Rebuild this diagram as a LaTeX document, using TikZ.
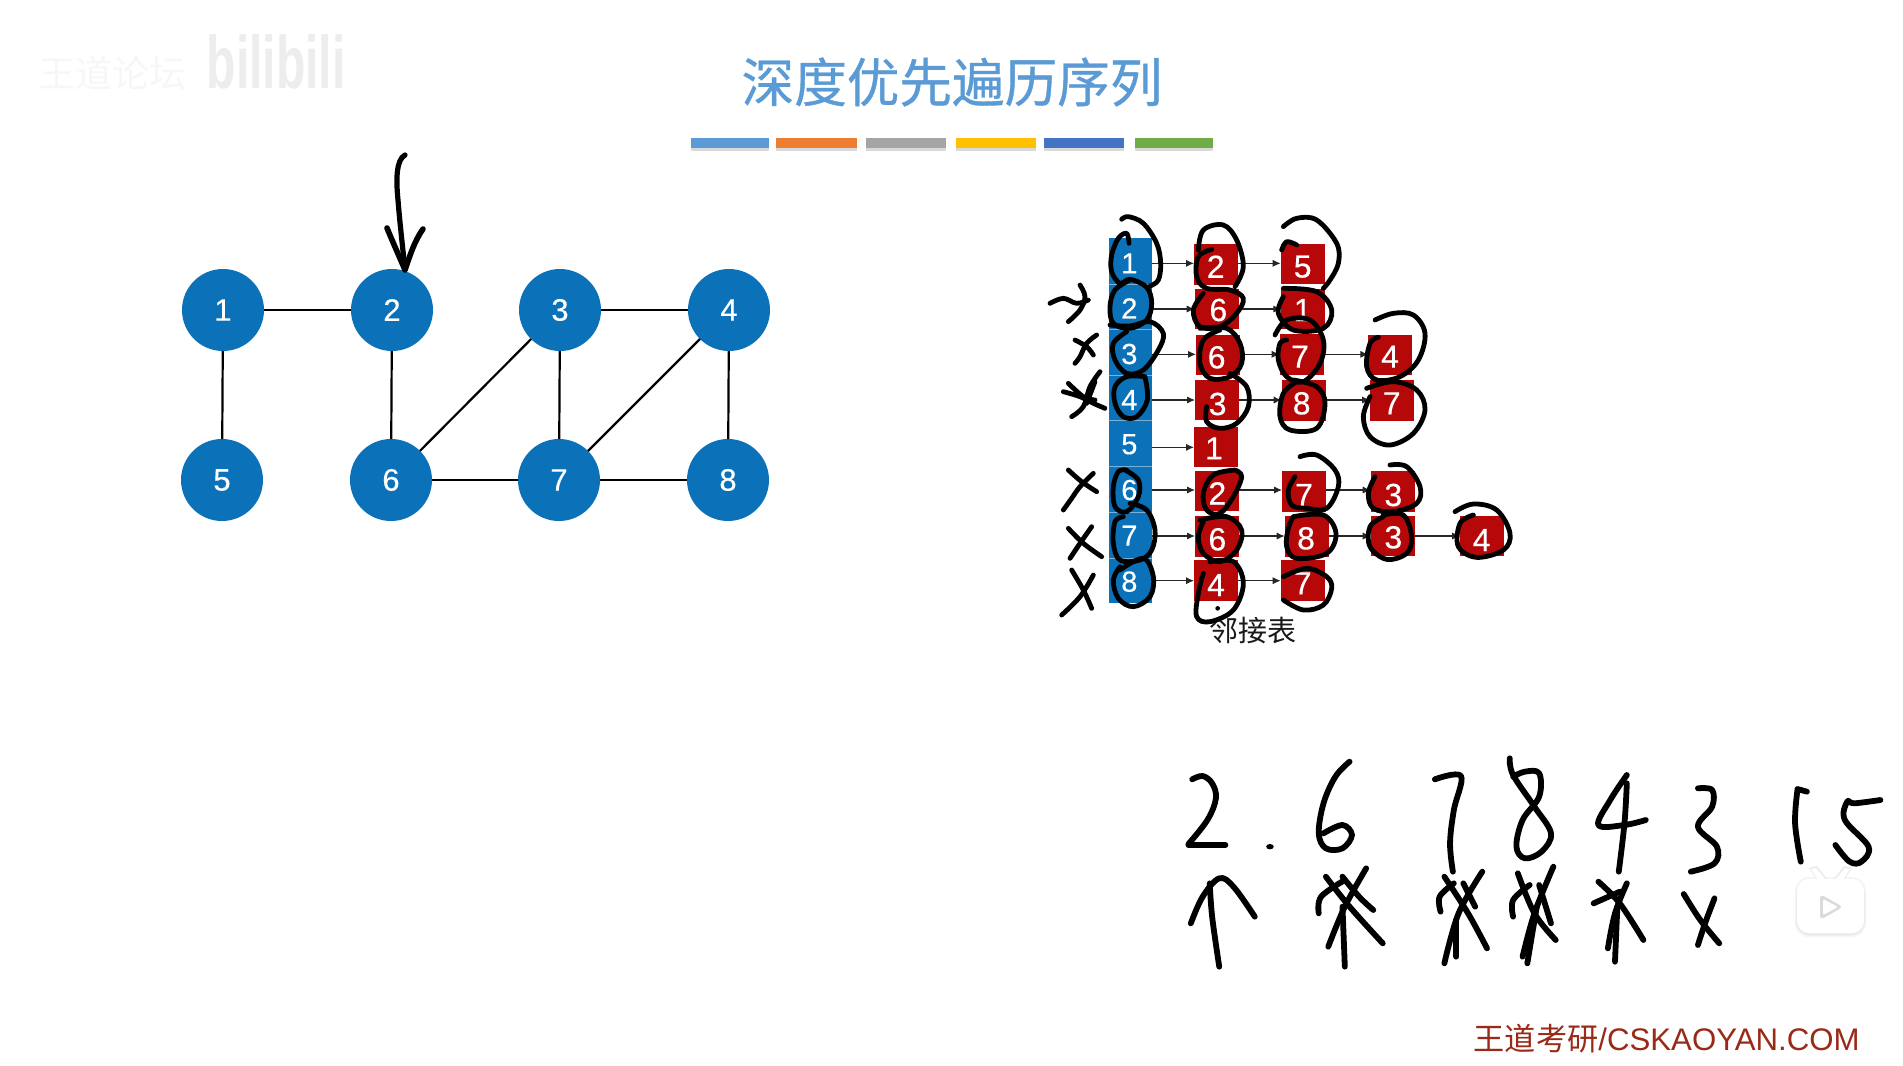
\documentclass[tikz,border=0pt]{standalone}
\usepackage{fontspec}
\setmainfont{Liberation Sans}
\newfontfamily\cjk{Noto Sans CJK SC}
\newfontfamily\cjkb[FakeBold=0.7]{Noto Sans CJK SC}
\newfontfamily\numf[FakeBold=0.35]{Liberation Sans}
\usetikzlibrary{arrows.meta}
\definecolor{nodeblue}{HTML}{0B72B9}
\definecolor{boxred}{HTML}{B60808}
\definecolor{titleblue}{HTML}{5B9BD5}
\definecolor{wmred}{HTML}{9A2A18}
\tikzset{
  gnode/.style={circle,fill=nodeblue,text=white,minimum size=41pt,inner sep=0pt,outer sep=0pt,font=\numf\fontsize{15.5}{16}\selectfont},
  gedge/.style={line width=1.1pt,black},
  cell/.style={rectangle,fill=nodeblue,text=white,minimum width=21.5pt,minimum height=22.8pt,inner sep=0pt,outer sep=0pt},
  redbox/.style={rectangle,fill=boxred,minimum width=22pt,minimum height=20.2pt,inner sep=0pt,outer sep=0pt},
  rednum/.style={text=white,inner sep=0pt,font=\numf\fontsize{16}{17}\selectfont},
  larr/.style={line width=0.55pt,black!85,-{Latex[length=4pt,width=3.6pt]}},
  inkst/.style={line width=2.4pt,black,line cap=round,line join=round},
  inkb/.style={line width=2.9pt,black,line cap=round,line join=round},
}
\newcommand{\ink}[1]{\draw[inkst] plot[smooth,tension=0.6] coordinates {#1};}
\newcommand{\inkB}[1]{\draw[inkb] plot[smooth,tension=0.6] coordinates {#1};}
% name, box centre x,y, label x,y, text
\newcommand{\rbox}[6]{\node[redbox] (#1) at (#2,#3) {}; \node[rednum] (#1t) at (#5,#6) {#4};}
\begin{document}
\begin{tikzpicture}[x=0.5pt,y=-0.5pt]
\useasboundingbox (0,0) rectangle (1903,1066);
\fill[white] (0,0) rectangle (1903,1066);
% faint watermarks
\node[text=black!3,font=\cjk\fontsize{18.5}{19}\selectfont,inner sep=0pt] (wa) at (113,73) {王道论坛};
\node[text=black!7,font=\bfseries\fontsize{24}{25}\selectfont,inner sep=0pt,yscale=1.55] (wb) at (276,62) {bilibili};
% title
\node[text=titleblue,font=\cjkb\fontsize{26.3}{27}\selectfont,inner sep=0pt] (title) at (952,82) {深度优先遍历序列};
\foreach \nm/\xa/\xb/\cc in {ba/691/769/5B9BD5,bb/776/857/ED7D31,bc/866/946/A5A5A5,bd/956/1036/FFC000,be/1044/1124/4472C4,bf/1135/1213/70AD47}{
  \definecolor{tmpc}{HTML}{\cc}
  \fill[black!15] (\xa,140) rectangle (\xb,150.5);
  \fill[tmpc] (\xa,138) rectangle (\xb,148);
}
% graph
\node[gnode] (n1) at (223,310) {1};
\node[gnode] (n2) at (392,310) {2};
\node[gnode] (n3) at (560,310) {3};
\node[gnode] (n4) at (729,310) {4};
\node[gnode] (n5) at (222,480) {5};
\node[gnode] (n6) at (391,480) {6};
\node[gnode] (n7) at (559,480) {7};
\node[gnode] (n8) at (728,480) {8};
\draw[gedge] (n1) -- (n2);
\draw[gedge] (n3) -- (n4);
\draw[gedge] (n6) -- (n7);
\draw[gedge] (n7) -- (n8);
\draw[gedge] (n1) -- (n5);
\draw[gedge] (n2) -- (n6);
\draw[gedge] (n3) -- (n7);
\draw[gedge] (n4) -- (n8);
\draw[gedge] (n3) -- (n6);
\draw[gedge] (n4) -- (n7);
% pen arrow on graph
\coordinate (pa) at (405,155);
\coordinate (pb) at (405,270);
\draw[line width=2.6pt,line cap=round,line join=round] (pa) .. controls (396,160) and (396,180) .. (398,200) .. controls (400,225) and (403,250) .. (pb);
\draw[line width=2.8pt,line cap=round,line join=round] (387,228) .. controls (394,245) and (400,258) .. (pb) .. controls (410,255) and (415,240) .. (423,229);
% adjacency list, coordinates from a 3x crop
\begin{scope}[shift={(1030,200)},x=0.16667pt,y=-0.16667pt]
\foreach \i/\yy in {1/183,2/320,3/456,4/593,5/731,6/868,7/1006,8/1141}{
  \node[cell] (c\i) at (300,\yy) {};
}
\foreach \yy in {253,388,525,662,800,937,1075}{
  \draw[white!45!nodeblue,line width=0.5pt] (237,\yy) -- (365,\yy);
}
\foreach \i/\yy in {1/190,2/325,3/462,4/600,5/733,6/870,7/1007,8/1145}{
  \node[text=white,inner sep=0pt,font=\numf\fontsize{14.5}{15}\selectfont] (ct\i) at (298,\yy) {\i};
}
\rbox{r1a}{558}{193}{2}{557}{200}
\rbox{r1b}{818}{192}{5}{818}{200}
\rbox{r2a}{560}{327}{6}{565}{330}
\rbox{r2b}{820}{327}{1}{818}{330}
\rbox{r3a}{564}{465}{6}{560}{472}
\rbox{r3b}{815}{463}{7}{810}{470}
\rbox{r3c}{1081}{465}{4}{1080}{470}
\rbox{r4a}{561}{600}{3}{563}{612}
\rbox{r4b}{821}{601}{8}{815}{610}
\rbox{r4c}{1086}{601}{7}{1085}{610}
\rbox{r5a}{558}{741}{1}{552}{745}
\rbox{r6a}{561}{873}{2}{562}{880}
\rbox{r6b}{822}{875}{7}{822}{885}
\rbox{r6c}{1088}{875}{3}{1090}{885}
\rbox{r7a}{561}{1010}{6}{562}{1018}
\rbox{r7b}{830}{1009}{8}{828}{1015}
\rbox{r7c}{1088}{1008}{3}{1090}{1012}
\rbox{r7d}{1356}{1008}{4}{1355}{1020}
\rbox{r8a}{558}{1142}{4}{558}{1155}
\rbox{r8b}{818}{1142}{7}{818}{1150}
\coordinate (l1) at (365,190);\coordinate (l2) at (365,327);\coordinate (l3) at (365,463);\coordinate (l4) at (365,600);
\coordinate (l5) at (365,742);\coordinate (l6) at (365,870);\coordinate (l7) at (365,1008);\coordinate (l8) at (365,1142);
\draw[larr] (l1) -- (l1 -| r1a.west);
\draw[larr] (r1a.east |- l1) -- (r1b.west |- l1);
\draw[larr] (l2) -- (l2 -| r2a.west);
\draw[larr] (r2a.east |- l2) -- (r2b.west |- l2);
\draw[larr] (l3) -- (l3 -| r3a.west);
\draw[larr] (r3a.east |- l3) -- (r3b.west |- l3);
\draw[larr] (r3b.east |- l3) -- (r3c.west |- l3);
\draw[larr] (l4) -- (l4 -| r4a.west);
\draw[larr] (r4a.east |- l4) -- (r4b.west |- l4);
\draw[larr] (r4b.east |- l4) -- (r4c.west |- l4);
\draw[larr] (l5) -- (l5 -| r5a.west);
\draw[larr] (l6) -- (l6 -| r6a.west);
\draw[larr] (r6a.east |- l6) -- (r6b.west |- l6);
\draw[larr] (r6b.east |- l6) -- (r6c.west |- l6);
\draw[larr] (l7) -- (l7 -| r7a.west);
\draw[larr] (r7a.east |- l7) -- (r7b.west |- l7);
\draw[larr] (r7b.east |- l7) -- (r7c.west |- l7);
\draw[larr] (r7c.east |- l7) -- (r7d.west |- l7);
\draw[larr] (l8) -- (l8 -| r8a.west);
\draw[larr] (r8a.east |- l8) -- (r8b.west |- l8);
\node[text=black!90,font=\cjk\fontsize{14.5}{15}\selectfont,inner sep=0pt] (cap) at (668,1292) {邻接表};
% ink: first column
\ink{(275,58)(295,50)(340,70)(380,130)(392,190)(385,240)(360,258)}
\ink{(297,130)(290,100)(265,115)(245,165)(245,215)(270,250)(300,238)(350,262)(365,310)(350,360)(300,385)(250,370)(240,320)(255,270)(300,240)}
\ink{(240,375)(300,378)(360,365)(400,400)(385,450)(340,510)(290,520)(255,480)(250,430)(290,395)}
\ink{(345,530)(352,600)(320,650)(280,650)(255,610)(255,560)(290,530)(345,530)}
\ink{(285,810)(325,840)(325,890)(290,935)(255,920)(250,860)(265,815)(290,810)}
\ink{(300,910)(350,930)(375,990)(365,1050)(330,1080)(270,1080)(250,1030)(255,965)(280,950)}
\ink{(270,1110)(340,1075)(370,1130)(360,1190)(310,1220)(265,1195)(250,1140)(270,1100)}
% second column
\ink{(505,150)(520,90)(580,75)(620,120)(640,200)(615,260)}
\ink{(545,148)(505,170)(500,230)(530,265)(600,270)(640,295)(620,340)(570,380)(510,380)(490,330)(520,280)}
\ink{(510,385)(590,385)(630,430)(635,490)(600,530)(540,535)(510,490)(520,420)(570,390)}
\ink{(600,520)(650,560)(655,620)(620,670)(570,685)(530,665)(530,620)}
\ink{(615,810)(635,830)(610,890)(570,940)(530,930)(520,880)(550,825)(615,810)}
\ink{(510,960)(590,950)(635,990)(620,1050)(570,1085)(520,1060)(505,1010)(520,965)}
\ink{(540,1085)(610,1085)(640,1150)(610,1230)(540,1265)(500,1250)(505,1180)(520,1120)}
\fill (563,1225) circle (7);
% third column
\ink{(760,80)(800,55)(860,60)(920,130)(925,190)(900,240)(880,265)}
\ink{(800,135)(770,125)(755,150)}
\ink{(760,265)(860,275)(905,330)(880,385)(790,390)(745,340)(760,290)}
\ink{(735,405)(770,360)(840,360)(880,420)(870,490)(820,545)(770,530)(745,480)(750,430)(770,420)}
\ink{(790,540)(860,560)(885,610)(860,685)(780,690)(750,650)(760,580)(800,545)}
\ink{(810,770)(860,765)(915,810)(925,860)(890,925)(830,925)(785,915)(775,870)(795,830)}
\ink{(790,950)(880,945)(918,1000)(890,1060)(800,1075)(770,1040)(775,985)(790,950)}
\ink{(760,1130)(830,1105)(890,1130)(905,1165)(880,1215)(820,1230)(760,1200)}
% fourth and fifth columns
\ink{(1035,360)(1090,340)(1150,345)(1185,400)(1165,480)(1110,530)(1040,540)(1010,500)(1020,430)(1045,412)}
\ink{(1010,565)(1090,545)(1160,570)(1185,630)(1150,700)(1080,735)(1020,710)(1000,650)(1020,590)}
\ink{(1080,795)(1130,800)(1170,860)(1160,910)(1090,935)(1030,925)(1015,880)(1035,830)}
\ink{(1060,945)(1120,945)(1145,1010)(1130,1060)(1070,1078)(1020,1040)(1020,980)(1060,950)}
\ink{(1275,935)(1330,912)(1400,930)(1440,1000)(1420,1050)(1340,1072)(1285,1040)(1290,970)(1330,945)}
% marks left of the column
\ink{(60,310)(100,295)(140,310)(175,300)}
\ink{(150,255)(165,290)(150,330)(115,365)}
\ink{(135,420)(170,440)(190,465)}
\ink{(200,405)(170,430)(150,470)(135,490)}
\ink{(100,575)(150,590)(190,610)(225,625)}
\ink{(115,550)(160,590)(195,600)}
\ink{(210,515)(180,560)(160,620)(125,650)}
\ink{(195,545)(170,610)}
\ink{(115,810)(155,845)(200,875)}
\ink{(190,820)(150,860)(125,895)(100,930)}
\ink{(115,985)(160,1030)(215,1070)}
\ink{(185,980)(150,1030)(120,1075)}
\ink{(125,1110)(160,1170)(185,1225)}
\ink{(190,1125)(150,1190)(95,1245)}
\end{scope}
% handwriting, coordinates from a crop
\begin{scope}[shift={(1160,740)},x=0.23697pt,y=-0.16667pt]
\inkB{(68,118)(90,108)(110,130)(118,175)(100,240)(60,312)}
\draw[inkb] (60,315) -- (138,315);
\fill (232,320) ellipse (8 and 8);
\inkB{(400,65)(370,110)(345,190)(335,280)(350,325)(385,325)(405,285)(385,255)(345,280)}
\inkB{(580,118)(635,108)(620,210)(612,310)(618,395)}
\inkB{(738,55)(745,105)(790,200)(825,280)(805,335)(770,355)(752,320)(765,240)(800,170)(800,100)(770,95)(745,110)}
\inkB{(985,105)(950,180)(925,255)(980,255)(1025,240)}
\inkB{(985,130)(980,250)(968,395)}
\inkB{(1135,145)(1165,150)(1165,200)(1135,260)(1175,320)(1170,370)(1120,395)}
\inkB{(1345,150)(1340,250)(1352,365)}
\draw[inkb] (1345,147) -- (1365,155);
\inkB{(1520,180)(1465,190)(1450,185)(1445,240)(1495,320)(1480,365)(1455,365)(1425,315)}
% arrow and crossed arrows
\inkB{(125,680)(110,530)(105,430)}
\inkB{(65,550)(90,470)(125,415)(155,440)(200,530)}
\inkB{(350,410)(400,500)(470,610)}
\inkB{(435,385)(390,500)(355,620)}
\inkB{(390,420)(340,470)(335,520)}
\inkB{(385,410)(420,470)(450,510)}
\inkB{(385,500)(390,680)}
\inkB{(600,410)(650,520)(690,625)}
\inkB{(680,395)(630,520)(600,670)}
\inkB{(620,430)(590,470)(592,515)}
\inkB{(640,430)(665,500)}
\inkB{(625,540)(625,650)}
\inkB{(755,400)(790,520)(835,600)}
\inkB{(830,380)(790,520)(765,650)}
\inkB{(780,435)(745,480)(745,530)}
\inkB{(800,435)(825,550)}
\inkB{(795,500)(775,670)}
\inkB{(925,425)(970,490)(1020,600)}
\inkB{(985,430)(960,520)(945,625)}
\inkB{(915,490)(970,455)}
\inkB{(965,500)(960,665)}
\inkB{(1105,462)(1140,540)(1180,610)}
\inkB{(1170,475)(1150,550)(1135,615)}
\end{scope}
% play badge
\fill[black!4,rounded corners=7pt] (1795,877) rectangle (1866,937);
\fill[black!8,rounded corners=7pt] (1796,880) rectangle (1865,935.5);
\fill[black!8] (1817,880) -- (1809,868) -- (1817,866) -- (1828,880) -- cycle;
\fill[black!8] (1844,880) -- (1852,868) -- (1844,866) -- (1833,880) -- cycle;
\fill[white,rounded corners=6pt] (1797,879) rectangle (1864,933);
\fill[white] (1818,880) -- (1811,869) -- (1816,868) -- (1826,880) -- cycle;
\fill[white] (1843,880) -- (1850,869) -- (1845,868) -- (1835,880) -- cycle;
\fill[black!14,rounded corners=2pt] (1820,894) -- (1843,907) -- (1820,920) -- cycle;
\fill[white,rounded corners=1pt] (1823,899) -- (1838,907) -- (1823,915) -- cycle;
% bottom watermark
\node[text=wmred,inner sep=0pt,anchor=east,font=\fontsize{15.6}{16}\selectfont] (wc) at (1860,1039) {{\cjk 王道考研}/CSKAOYAN.COM};
\end{tikzpicture}
\end{document}
